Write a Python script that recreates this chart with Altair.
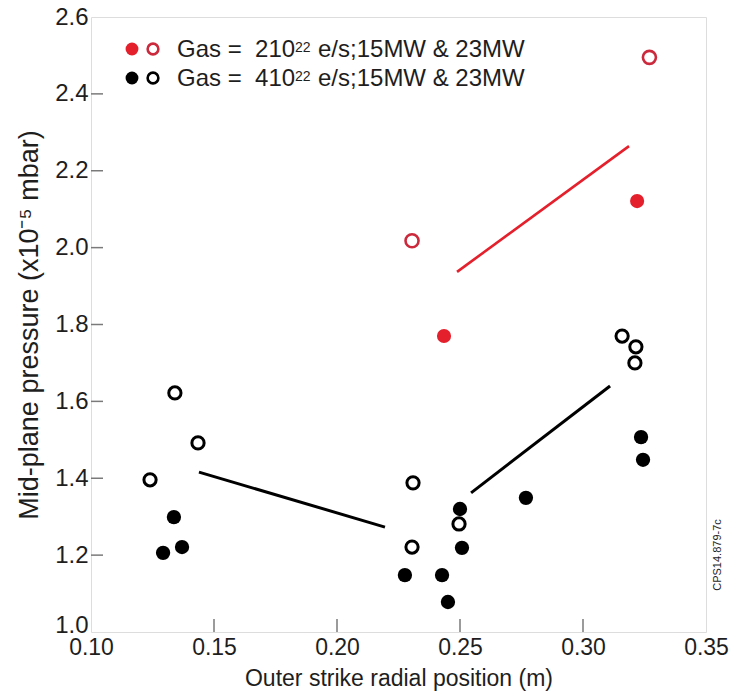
import altair as alt
import pandas as pd

# ---- data ----
red_filled_x = [0.2435, 0.3220]
red_filled_y = [1.770, 2.121]
red_open_x = [0.2305, 0.3270]
red_open_y = [2.018, 2.495]

black_filled_x = [0.1337, 0.1370, 0.1293, 0.2500, 0.2508, 0.2276, 0.2427, 0.2451, 0.2768, 0.3236, 0.3244]
black_filled_y = [1.299, 1.221, 1.206, 1.320, 1.219, 1.148, 1.148, 1.078, 1.349, 1.507, 1.448]
black_open_x = [0.1341, 0.1435, 0.1240, 0.2309, 0.2496, 0.2305, 0.3159, 0.3215, 0.3211]
black_open_y = [1.622, 1.492, 1.396, 1.388, 1.281, 1.221, 1.770, 1.742, 1.700]

red_line_x = [0.2488, 0.3187]
red_line_y = [1.937, 2.264]
black_line1_x = [0.1439, 0.2195]
black_line1_y = [1.416, 1.273]
black_line2_x = [0.2545, 0.3110]
black_line2_y = [1.362, 1.640]

x_ticks = [0.10, 0.15, 0.20, 0.25, 0.30, 0.35]
y_ticks = [1.0, 1.2, 1.4, 1.6, 1.8, 2.0, 2.2, 2.4, 2.6]
x_inner_ticks = [0.15, 0.20, 0.25, 0.30]
y_inner_ticks = [1.2, 1.4, 1.6, 1.8, 2.0, 2.2, 2.4]

legend_main = ["Gas = \u00a0210", "Gas = \u00a0410"]
legend_sup = ["22", "22"]
legend_rest = ["e/s;15MW & 23MW", "e/s;15MW & 23MW"]
stamp = "CPS14.879-7c"

FONT = "Liberation Sans"
W, H = 615, 615
RED = "#e4202c"
RED_OPEN = "#cc2a3c"
AX = "#7a7a7a"
TXT = "#1e1e1e"

xs = alt.Scale(domain=[0.10, 0.35], nice=False, zero=False)
ys = alt.Scale(domain=[1.0, 2.6], nice=False, zero=False)

x_enc = alt.X("x:Q", scale=xs, axis=alt.Axis(
    values=x_ticks, format=".2f", title="Outer strike radial position (m)",
    grid=False, domain=False, ticks=False, labelFontSize=23, labelPadding=4,
    labelFont=FONT, labelColor=TXT, titleFont=FONT, titleFontSize=23,
    titleFontWeight="normal", titleColor=TXT, titlePadding=8, labelFlush=False))
y_enc = alt.Y("y:Q", scale=ys, axis=alt.Axis(
    values=y_ticks, format=".1f", title="Mid-plane pressure (x10⁻⁵ mbar)",
    grid=False, domain=False, ticks=False, labelFontSize=24, labelPadding=3,
    labelFont=FONT, labelColor=TXT, titleFont=FONT, titleFontSize=27,
    titleFontWeight="normal", titleColor=TXT, titlePadding=11, labelFlush=False,
    labelBaseline={"condition": {"test": "datum.value <= 1.0", "value": "alphabetic"},
                   "value": "middle"}))


def pts(xv, yv):
    return pd.DataFrame({"x": xv, "y": yv})


red_f = alt.Chart(pts(red_filled_x, red_filled_y)).mark_point(
    filled=True, shape="circle", size=200, color=RED, opacity=1).encode(x=x_enc, y=y_enc)
red_o = alt.Chart(pts(red_open_x, red_open_y)).mark_point(
    filled=False, shape="circle", size=170, stroke=RED_OPEN, strokeWidth=2.6, opacity=1).encode(x=x_enc, y=y_enc)
blk_f = alt.Chart(pts(black_filled_x, black_filled_y)).mark_point(
    filled=True, shape="circle", size=205, color="black", opacity=1).encode(x=x_enc, y=y_enc)
blk_o = alt.Chart(pts(black_open_x, black_open_y)).mark_point(
    filled=False, shape="circle", size=150, stroke="black", strokeWidth=3, opacity=1).encode(x=x_enc, y=y_enc)

red_l = alt.Chart(pts(red_line_x, red_line_y)).mark_line(color=RED, strokeWidth=2.6).encode(x=x_enc, y=y_enc)
blk_l1 = alt.Chart(pts(black_line1_x, black_line1_y)).mark_line(color="black", strokeWidth=3).encode(x=x_enc, y=y_enc)
blk_l2 = alt.Chart(pts(black_line2_x, black_line2_y)).mark_line(color="black", strokeWidth=3).encode(x=x_enc, y=y_enc)

ytick_rules = alt.Chart(pd.DataFrame({"y": y_inner_ticks})).mark_rule(color=AX, strokeWidth=1.5).encode(
    y=alt.Y("y:Q", scale=ys), x=alt.value(0), x2=alt.value(12))
xtick_rules = alt.Chart(pd.DataFrame({"x": x_inner_ticks})).mark_rule(color=AX, strokeWidth=1.5).encode(
    x=alt.X("x:Q", scale=xs), y=alt.value(H), y2=alt.value(H - 13))

# legend (manual, two symbols per row)
leg_f = alt.Chart(pd.DataFrame({"c": [RED, "black"], "py": [32, 61]})).mark_point(
    filled=True, shape="circle", size=165, opacity=1).encode(
    x=alt.value(41), y=alt.Y("py:Q", scale=None), color=alt.Color("c:N", scale=None))
leg_o = alt.Chart(pd.DataFrame({"c": [RED_OPEN, "black"], "py": [32, 61]})).mark_point(
    filled=False, shape="circle", size=115, strokeWidth=2.6, opacity=1).encode(
    x=alt.value(62), y=alt.Y("py:Q", scale=None), stroke=alt.Stroke("c:N", scale=None))
leg_main = alt.Chart(pd.DataFrame({"t": legend_main, "py": [40, 69]})).mark_text(
    align="left", baseline="alphabetic", font=FONT, fontSize=24, color=TXT).encode(
    x=alt.value(86), y=alt.Y("py:Q", scale=None), text="t:N")
leg_sup = alt.Chart(pd.DataFrame({"t": legend_sup, "py": [35, 64]})).mark_text(
    align="left", baseline="alphabetic", font=FONT, fontSize=14, color=TXT).encode(
    x=alt.value(204), y=alt.Y("py:Q", scale=None), text="t:N")
leg_rest = alt.Chart(pd.DataFrame({"t": legend_rest, "py": [40, 69]})).mark_text(
    align="left", baseline="alphabetic", font=FONT, fontSize=24, color=TXT).encode(
    x=alt.value(227), y=alt.Y("py:Q", scale=None), text="t:N")

stamp_t = alt.Chart(pd.DataFrame({"t": [stamp]})).mark_text(
    angle=270, align="center", baseline="middle", font=FONT, fontSize=11, color=TXT).encode(
    x=alt.value(W + 12), y=alt.value(538), text="t:N")

chart = alt.layer(
    ytick_rules, xtick_rules, red_l, blk_l1, blk_l2,
    blk_f, blk_o, red_f, red_o, leg_f, leg_o, leg_main, leg_sup, leg_rest, stamp_t
).properties(
    width=W, height=H,
    autosize=alt.AutoSizeParams(type="none"),
    padding={"left": 91, "top": 17, "right": 28, "bottom": 64},
).configure_view(stroke=AX, strokeWidth=1.5).configure(background="white")

chart.save("out.html", embed_options={"renderer": "svg", "actions": False})
